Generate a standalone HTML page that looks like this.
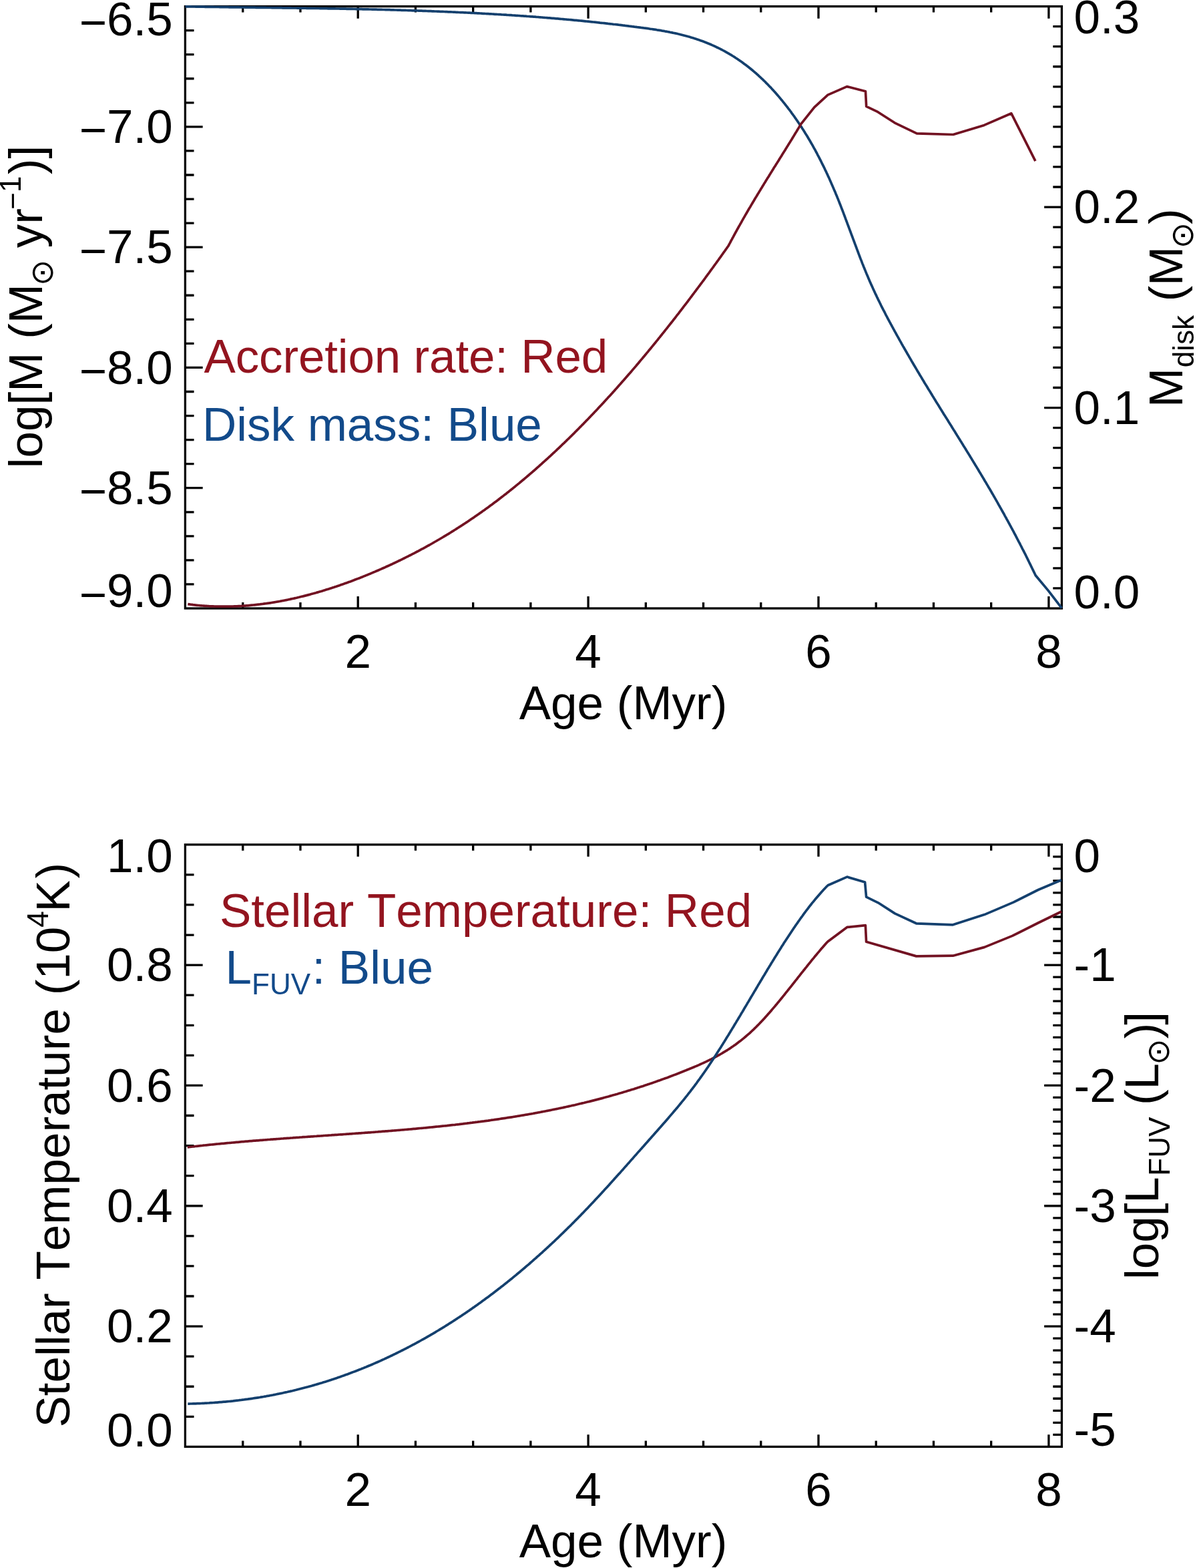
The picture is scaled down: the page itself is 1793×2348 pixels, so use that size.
<!DOCTYPE html>
<html><head><meta charset="utf-8"><title>Plot</title>
<style>html,body{margin:0;padding:0;background:#fff;} svg{display:block;} text{font-family:"Liberation Sans",Arial,Helvetica,sans-serif;font-kerning:none;}</style>
</head><body>
<svg xmlns="http://www.w3.org/2000/svg" width="1793" height="2348" viewBox="0 0 1793 2348">
<rect width="1793" height="2348" fill="#fff"/>
<rect x="277.4" y="9.6" width="1313.00" height="901.40" fill="none" stroke="#000" stroke-width="3.3"/>
<rect x="277.4" y="1264.8" width="1313.00" height="901.60" fill="none" stroke="#000" stroke-width="3.3"/>
<path d="M363.75,911.00v-9.01M363.75,9.60v9.01M449.97,911.00v-9.01M449.97,9.60v9.01M536.20,911.00v-18.03M536.20,9.60v18.03M622.42,911.00v-9.01M622.42,9.60v9.01M708.65,911.00v-9.01M708.65,9.60v9.01M794.88,911.00v-9.01M794.88,9.60v9.01M881.10,911.00v-18.03M881.10,9.60v18.03M967.33,911.00v-9.01M967.33,9.60v9.01M1053.55,911.00v-9.01M1053.55,9.60v9.01M1139.77,911.00v-9.01M1139.77,9.60v9.01M1226.00,911.00v-18.03M1226.00,9.60v18.03M1312.22,911.00v-9.01M1312.22,9.60v9.01M1398.45,911.00v-9.01M1398.45,9.60v9.01M1484.67,911.00v-9.01M1484.67,9.60v9.01M1570.90,911.00v-18.03M1570.90,9.60v18.03" stroke="#000" stroke-width="3.3" fill="none"/>
<path d="M363.75,2166.40v-9.02M363.75,1264.80v9.02M449.97,2166.40v-9.02M449.97,1264.80v9.02M536.20,2166.40v-18.03M536.20,1264.80v18.03M622.42,2166.40v-9.02M622.42,1264.80v9.02M708.65,2166.40v-9.02M708.65,1264.80v9.02M794.88,2166.40v-9.02M794.88,1264.80v9.02M881.10,2166.40v-18.03M881.10,1264.80v18.03M967.33,2166.40v-9.02M967.33,1264.80v9.02M1053.55,2166.40v-9.02M1053.55,1264.80v9.02M1139.77,2166.40v-9.02M1139.77,1264.80v9.02M1226.00,2166.40v-18.03M1226.00,1264.80v18.03M1312.22,2166.40v-9.02M1312.22,1264.80v9.02M1398.45,2166.40v-9.02M1398.45,1264.80v9.02M1484.67,2166.40v-9.02M1484.67,1264.80v9.02M1570.90,2166.40v-18.03M1570.90,1264.80v18.03" stroke="#000" stroke-width="3.3" fill="none"/>
<path d="M277.40,874.94h13.13M277.40,838.89h13.13M277.40,802.83h13.13M277.40,766.78h13.13M277.40,730.72h26.26M277.40,694.66h13.13M277.40,658.61h13.13M277.40,622.55h13.13M277.40,586.50h13.13M277.40,550.44h26.26M277.40,514.38h13.13M277.40,478.33h13.13M277.40,442.27h13.13M277.40,406.22h13.13M277.40,370.16h26.26M277.40,334.10h13.13M277.40,298.05h13.13M277.40,261.99h13.13M277.40,225.94h13.13M277.40,189.88h26.26M277.40,153.82h13.13M277.40,117.77h13.13M277.40,81.71h13.13M277.40,45.66h13.13" stroke="#000" stroke-width="3.3" fill="none"/>
<path d="M1590.40,880.95h-13.13M1590.40,850.91h-13.13M1590.40,820.86h-13.13M1590.40,790.81h-13.13M1590.40,760.77h-13.13M1590.40,730.72h-13.13M1590.40,700.67h-13.13M1590.40,670.63h-13.13M1590.40,640.58h-13.13M1590.40,610.53h-26.26M1590.40,580.49h-13.13M1590.40,550.44h-13.13M1590.40,520.39h-13.13M1590.40,490.35h-13.13M1590.40,460.30h-13.13M1590.40,430.25h-13.13M1590.40,400.21h-13.13M1590.40,370.16h-13.13M1590.40,340.11h-13.13M1590.40,310.07h-26.26M1590.40,280.02h-13.13M1590.40,249.97h-13.13M1590.40,219.93h-13.13M1590.40,189.88h-13.13M1590.40,159.83h-13.13M1590.40,129.79h-13.13M1590.40,99.74h-13.13M1590.40,69.69h-13.13M1590.40,39.65h-13.13" stroke="#000" stroke-width="3.3" fill="none"/>
<path d="M277.40,2121.32h13.13M277.40,2076.24h13.13M277.40,2031.16h13.13M277.40,1986.08h26.26M277.40,1941.00h13.13M277.40,1895.92h13.13M277.40,1850.84h13.13M277.40,1805.76h26.26M277.40,1760.68h13.13M277.40,1715.60h13.13M277.40,1670.52h13.13M277.40,1625.44h26.26M277.40,1580.36h13.13M277.40,1535.28h13.13M277.40,1490.20h13.13M277.40,1445.12h26.26M277.40,1400.04h13.13M277.40,1354.96h13.13M277.40,1309.88h13.13" stroke="#000" stroke-width="3.3" fill="none"/>
<path d="M1590.40,2148.37h-13.13M1590.40,2130.34h-13.13M1590.40,2112.30h-13.13M1590.40,2094.27h-13.13M1590.40,2076.24h-13.13M1590.40,2058.21h-13.13M1590.40,2040.18h-13.13M1590.40,2022.14h-13.13M1590.40,2004.11h-13.13M1590.40,1986.08h-26.26M1590.40,1968.05h-13.13M1590.40,1950.02h-13.13M1590.40,1931.98h-13.13M1590.40,1913.95h-13.13M1590.40,1895.92h-13.13M1590.40,1877.89h-13.13M1590.40,1859.86h-13.13M1590.40,1841.82h-13.13M1590.40,1823.79h-13.13M1590.40,1805.76h-26.26M1590.40,1787.73h-13.13M1590.40,1769.70h-13.13M1590.40,1751.66h-13.13M1590.40,1733.63h-13.13M1590.40,1715.60h-13.13M1590.40,1697.57h-13.13M1590.40,1679.54h-13.13M1590.40,1661.50h-13.13M1590.40,1643.47h-13.13M1590.40,1625.44h-26.26M1590.40,1607.41h-13.13M1590.40,1589.38h-13.13M1590.40,1571.34h-13.13M1590.40,1553.31h-13.13M1590.40,1535.28h-13.13M1590.40,1517.25h-13.13M1590.40,1499.22h-13.13M1590.40,1481.18h-13.13M1590.40,1463.15h-13.13M1590.40,1445.12h-26.26M1590.40,1427.09h-13.13M1590.40,1409.06h-13.13M1590.40,1391.02h-13.13M1590.40,1372.99h-13.13M1590.40,1354.96h-13.13M1590.40,1336.93h-13.13M1590.40,1318.90h-13.13M1590.40,1300.86h-13.13M1590.40,1282.83h-13.13" stroke="#000" stroke-width="3.3" fill="none"/>
<path d="M277.5,9.8 L279.5,9.9 L281.5,9.9 L283.5,9.9 L285.5,9.9 L287.5,10.0 L289.5,10.0 L291.5,10.0 L293.5,10.1 L295.5,10.1 L297.5,10.1 L299.5,10.2 L301.5,10.2 L303.5,10.2 L305.5,10.2 L307.5,10.3 L309.5,10.3 L311.5,10.3 L313.5,10.4 L315.5,10.4 L317.5,10.4 L319.5,10.4 L321.5,10.5 L323.5,10.5 L325.5,10.5 L327.5,10.5 L329.5,10.6 L331.5,10.6 L333.5,10.6 L335.5,10.7 L337.5,10.7 L339.5,10.7 L341.5,10.7 L343.5,10.8 L345.5,10.8 L347.5,10.8 L349.5,10.8 L351.5,10.9 L353.5,10.9 L355.5,10.9 L357.5,10.9 L359.5,11.0 L361.5,11.0 L363.5,11.0 L365.5,11.0 L367.5,11.1 L369.5,11.1 L371.5,11.1 L373.5,11.1 L375.5,11.2 L377.5,11.2 L379.5,11.2 L381.5,11.2 L383.5,11.3 L385.5,11.3 L387.5,11.3 L389.5,11.3 L391.5,11.4 L393.5,11.4 L395.5,11.4 L397.5,11.4 L399.5,11.5 L401.5,11.5 L403.5,11.5 L405.5,11.5 L407.5,11.6 L409.5,11.6 L411.5,11.6 L413.5,11.6 L415.5,11.7 L417.5,11.7 L419.5,11.7 L421.5,11.7 L423.5,11.8 L425.5,11.8 L427.5,11.8 L429.5,11.8 L431.5,11.9 L433.5,11.9 L435.5,11.9 L437.5,12.0 L439.5,12.0 L441.5,12.0 L443.5,12.0 L445.5,12.1 L447.5,12.1 L449.5,12.1 L451.5,12.1 L453.5,12.2 L455.5,12.2 L457.5,12.2 L459.5,12.3 L461.5,12.3 L463.5,12.3 L465.5,12.4 L467.5,12.4 L469.5,12.4 L471.5,12.4 L473.5,12.5 L475.5,12.5 L477.5,12.5 L479.5,12.6 L481.5,12.6 L483.5,12.6 L485.5,12.7 L487.5,12.7 L489.5,12.7 L491.5,12.8 L493.5,12.8 L495.5,12.8 L497.5,12.9 L499.5,12.9 L501.5,12.9 L503.5,13.0 L505.5,13.0 L507.5,13.0 L509.5,13.1 L511.5,13.1 L513.5,13.2 L515.5,13.2 L517.5,13.2 L519.5,13.3 L521.5,13.3 L523.5,13.4 L525.5,13.4 L527.5,13.4 L529.5,13.5 L531.5,13.5 L533.5,13.6 L535.5,13.6 L537.5,13.6 L539.5,13.7 L541.5,13.7 L543.5,13.8 L545.5,13.8 L547.5,13.9 L549.5,13.9 L551.5,13.9 L553.5,14.0 L555.5,14.0 L557.5,14.1 L559.5,14.1 L561.5,14.2 L563.5,14.2 L565.5,14.3 L567.5,14.3 L569.5,14.4 L571.5,14.4 L573.5,14.5 L575.5,14.5 L577.5,14.6 L579.5,14.6 L581.5,14.7 L583.5,14.7 L585.5,14.8 L587.5,14.9 L589.5,14.9 L591.5,15.0 L593.5,15.0 L595.5,15.1 L597.5,15.1 L599.5,15.2 L601.5,15.3 L603.5,15.3 L605.4,15.4 L607.4,15.4 L609.4,15.5 L611.4,15.6 L613.4,15.6 L615.4,15.7 L617.4,15.8 L619.4,15.8 L621.4,15.9 L623.4,15.9 L625.4,16.0 L627.4,16.1 L629.4,16.2 L631.4,16.2 L633.4,16.3 L635.4,16.4 L637.4,16.4 L639.4,16.5 L641.4,16.6 L643.4,16.7 L645.4,16.7 L647.4,16.8 L649.4,16.9 L651.4,17.0 L653.4,17.0 L655.4,17.1 L657.4,17.2 L659.4,17.3 L661.4,17.3 L663.4,17.4 L665.4,17.5 L667.4,17.6 L669.4,17.7 L671.4,17.8 L673.4,17.8 L675.4,17.9 L677.4,18.0 L679.4,18.1 L681.4,18.2 L683.4,18.3 L685.4,18.4 L687.4,18.5 L689.4,18.6 L691.4,18.6 L693.4,18.7 L695.4,18.8 L697.4,18.9 L699.4,19.0 L701.4,19.1 L703.4,19.2 L705.4,19.3 L707.4,19.4 L709.4,19.5 L711.4,19.6 L713.4,19.7 L715.4,19.8 L717.4,19.9 L719.4,20.0 L721.3,20.1 L723.3,20.3 L725.3,20.4 L727.3,20.5 L729.3,20.6 L731.3,20.7 L733.3,20.8 L735.3,20.9 L737.3,21.0 L739.3,21.1 L741.3,21.3 L743.3,21.4 L745.3,21.5 L747.3,21.6 L749.3,21.7 L751.3,21.9 L753.3,22.0 L755.3,22.1 L757.3,22.2 L759.3,22.4 L761.3,22.5 L763.3,22.6 L765.3,22.7 L767.3,22.9 L769.3,23.0 L771.3,23.1 L773.3,23.3 L775.3,23.4 L777.2,23.5 L779.2,23.7 L781.2,23.8 L783.2,23.9 L785.2,24.1 L787.2,24.2 L789.2,24.4 L791.2,24.5 L793.2,24.6 L795.2,24.8 L797.2,24.9 L799.2,25.1 L801.2,25.2 L803.2,25.4 L805.2,25.5 L807.2,25.7 L809.2,25.8 L811.2,26.0 L813.2,26.2 L815.1,26.3 L817.1,26.5 L819.1,26.6 L821.1,26.8 L823.1,26.9 L825.1,27.1 L827.1,27.3 L829.1,27.4 L831.1,27.6 L833.1,27.8 L835.1,27.9 L837.1,28.1 L839.1,28.3 L841.1,28.5 L843.1,28.6 L845.0,28.8 L847.0,29.0 L849.0,29.2 L851.0,29.3 L853.0,29.5 L855.0,29.7 L857.0,29.9 L859.0,30.1 L861.0,30.3 L863.0,30.4 L865.0,30.6 L867.0,30.8 L868.9,31.0 L870.9,31.2 L872.9,31.4 L874.9,31.6 L876.9,31.8 L878.9,32.0 L880.9,32.2 L882.9,32.4 L884.9,32.6 L886.9,32.8 L888.8,33.0 L890.8,33.2 L892.8,33.4 L894.8,33.6 L896.8,33.8 L898.8,34.1 L900.8,34.3 L902.8,34.5 L904.8,34.7 L906.7,34.9 L908.7,35.1 L910.7,35.4 L912.7,35.6 L914.7,35.8 L916.7,36.0 L918.7,36.3 L920.7,36.5 L922.6,36.7 L924.6,36.9 L926.6,37.2 L928.6,37.4 L930.6,37.6 L932.6,37.9 L934.6,38.1 L936.5,38.4 L938.5,38.6 L940.5,38.8 L942.5,39.1 L944.5,39.3 L946.5,39.6 L948.5,39.8 L950.4,40.1 L952.4,40.3 L954.4,40.6 L956.4,40.8 L958.4,41.1 L960.4,41.4 L962.3,41.6 L964.3,41.9 L966.3,42.1 L968.3,42.4 L970.3,42.7 L972.3,43.0 L974.2,43.3 L976.2,43.5 L978.2,43.8 L980.2,44.1 L982.1,44.4 L984.1,44.8 L986.1,45.1 L988.1,45.4 L990.0,45.7 L992.0,46.1 L994.0,46.4 L996.0,46.8 L997.9,47.1 L999.9,47.5 L1001.9,47.9 L1003.8,48.3 L1005.8,48.6 L1007.7,49.1 L1009.7,49.5 L1011.7,49.9 L1013.6,50.3 L1015.6,50.8 L1017.5,51.2 L1019.4,51.7 L1021.4,52.2 L1023.3,52.7 L1025.3,53.2 L1027.2,53.7 L1029.1,54.2 L1031.1,54.8 L1033.0,55.3 L1034.9,55.9 L1036.8,56.5 L1038.7,57.1 L1040.6,57.7 L1042.5,58.3 L1044.4,58.9 L1046.3,59.6 L1048.2,60.2 L1050.1,60.9 L1052.0,61.6 L1053.9,62.3 L1055.7,63.0 L1057.6,63.7 L1059.5,64.5 L1061.3,65.2 L1063.2,66.0 L1065.0,66.8 L1066.8,67.6 L1068.7,68.4 L1070.5,69.2 L1072.3,70.1 L1074.1,71.0 L1075.9,71.8 L1077.7,72.7 L1079.5,73.6 L1081.3,74.5 L1083.1,75.5 L1084.8,76.4 L1086.6,77.4 L1088.3,78.4 L1090.1,79.4 L1091.8,80.4 L1093.5,81.4 L1095.3,82.4 L1097.0,83.5 L1098.7,84.5 L1100.4,85.6 L1102.0,86.7 L1103.7,87.8 L1105.4,88.9 L1107.0,90.0 L1108.7,91.2 L1110.3,92.3 L1112.0,93.5 L1113.6,94.7 L1115.2,95.9 L1116.8,97.1 L1118.4,98.3 L1120.0,99.5 L1121.6,100.8 L1123.1,102.0 L1124.7,103.3 L1126.2,104.5 L1127.8,105.8 L1129.3,107.1 L1130.8,108.4 L1132.4,109.7 L1133.9,111.1 L1135.4,112.4 L1136.8,113.8 L1138.3,115.1 L1139.8,116.5 L1141.2,117.9 L1142.7,119.2 L1144.1,120.6 L1145.6,122.0 L1147.0,123.4 L1148.4,124.9 L1149.8,126.3 L1151.2,127.7 L1152.6,129.2 L1154.0,130.6 L1155.4,132.1 L1156.7,133.6 L1158.1,135.0 L1159.4,136.5 L1160.8,138.0 L1162.1,139.5 L1163.4,141.0 L1164.7,142.5 L1166.1,144.1 L1167.4,145.6 L1168.6,147.1 L1169.9,148.7 L1171.2,150.2 L1172.5,151.8 L1173.7,153.3 L1175.0,154.9 L1176.2,156.5 L1177.5,158.1 L1178.7,159.6 L1179.9,161.2 L1181.1,162.8 L1182.4,164.4 L1183.6,166.0 L1184.8,167.6 L1185.9,169.3 L1187.1,170.9 L1188.3,172.5 L1189.5,174.1 L1190.6,175.8 L1191.8,177.4 L1192.9,179.1 L1194.1,180.7 L1195.2,182.4 L1196.3,184.0 L1197.4,185.7 L1198.6,187.4 L1199.7,189.0 L1200.8,190.7 L1201.8,192.4 L1202.9,194.1 L1204.0,195.8 L1205.1,197.5 L1206.1,199.2 L1207.2,200.9 L1208.2,202.6 L1209.3,204.3 L1210.3,206.0 L1211.3,207.8 L1212.4,209.5 L1213.4,211.2 L1214.4,213.0 L1215.4,214.7 L1216.4,216.4 L1217.4,218.2 L1218.3,219.9 L1219.3,221.7 L1220.3,223.4 L1221.3,225.2 L1222.2,227.0 L1223.2,228.7 L1224.1,230.5 L1225.0,232.3 L1226.0,234.1 L1226.9,235.8 L1227.8,237.6 L1228.7,239.4 L1229.6,241.2 L1230.5,243.0 L1231.4,244.8 L1232.3,246.6 L1233.2,248.4 L1234.1,250.2 L1235.0,252.0 L1235.8,253.8 L1236.7,255.6 L1237.6,257.4 L1238.4,259.2 L1239.3,261.1 L1240.1,262.9 L1240.9,264.7 L1241.8,266.5 L1242.6,268.4 L1243.4,270.2 L1244.2,272.0 L1245.0,273.9 L1245.8,275.7 L1246.6,277.5 L1247.4,279.4 L1248.2,281.2 L1249.0,283.1 L1249.8,284.9 L1250.6,286.8 L1251.4,288.6 L1252.1,290.5 L1252.9,292.3 L1253.7,294.2 L1254.4,296.0 L1255.2,297.9 L1255.9,299.7 L1256.7,301.6 L1257.4,303.5 L1258.1,305.3 L1258.9,307.2 L1259.6,309.1 L1260.3,310.9 L1261.0,312.8 L1261.8,314.7 L1262.5,316.6 L1263.2,318.4 L1263.9,320.3 L1264.6,322.2 L1265.3,324.0 L1266.0,325.9 L1266.7,327.8 L1267.4,329.7 L1268.1,331.5 L1268.8,333.4 L1269.5,335.3 L1270.2,337.2 L1270.9,339.0 L1271.6,340.9 L1272.3,342.8 L1273.0,344.7 L1273.7,346.5 L1274.4,348.4 L1275.1,350.3 L1275.8,352.2 L1276.5,354.0 L1277.2,355.9 L1277.9,357.8 L1278.6,359.7 L1279.3,361.5 L1280.0,363.4 L1280.7,365.3 L1281.4,367.2 L1282.1,369.0 L1282.8,370.9 L1283.5,372.8 L1284.2,374.6 L1284.9,376.5 L1285.6,378.4 L1286.3,380.3 L1287.0,382.1 L1287.7,384.0 L1288.4,385.8 L1289.1,387.7 L1289.9,389.6 L1290.6,391.4 L1291.3,393.3 L1292.0,395.1 L1292.8,397.0 L1293.5,398.9 L1294.3,400.7 L1295.0,402.6 L1295.8,404.4 L1296.5,406.2 L1297.3,408.1 L1298.0,409.9 L1298.8,411.8 L1299.6,413.6 L1300.4,415.4 L1301.1,417.3 L1301.9,419.1 L1302.7,420.9 L1303.5,422.8 L1304.3,424.6 L1305.1,426.4 L1306.0,428.2 L1306.8,430.0 L1307.6,431.9 L1308.4,433.7 L1309.3,435.5 L1310.1,437.3 L1310.9,439.1 L1311.8,440.9 L1312.7,442.7 L1313.5,444.5 L1314.4,446.3 L1315.2,448.1 L1316.1,449.9 L1317.0,451.7 L1317.9,453.5 L1318.8,455.3 L1319.6,457.1 L1320.5,458.8 L1321.4,460.6 L1322.3,462.4 L1323.2,464.2 L1324.2,465.9 L1325.1,467.7 L1326.0,469.5 L1326.9,471.3 L1327.8,473.0 L1328.8,474.8 L1329.7,476.6 L1330.6,478.3 L1331.6,480.1 L1332.5,481.9 L1333.5,483.6 L1334.4,485.4 L1335.4,487.1 L1336.3,488.9 L1337.3,490.6 L1338.2,492.4 L1339.2,494.1 L1340.1,495.9 L1341.1,497.6 L1342.1,499.4 L1343.0,501.1 L1344.0,502.9 L1345.0,504.6 L1346.0,506.4 L1346.9,508.1 L1347.9,509.9 L1348.9,511.6 L1349.9,513.4 L1350.8,515.1 L1351.8,516.8 L1352.8,518.6 L1353.8,520.3 L1354.8,522.0 L1355.8,523.8 L1356.8,525.5 L1357.8,527.2 L1358.8,529.0 L1359.8,530.7 L1360.8,532.4 L1361.8,534.2 L1362.8,535.9 L1363.8,537.6 L1364.8,539.3 L1365.8,541.1 L1366.8,542.8 L1367.8,544.5 L1368.8,546.2 L1369.9,548.0 L1370.9,549.7 L1371.9,551.4 L1372.9,553.1 L1373.9,554.8 L1374.9,556.6 L1376.0,558.3 L1377.0,560.0 L1378.0,561.7 L1379.1,563.4 L1380.1,565.1 L1381.1,566.8 L1382.1,568.6 L1383.2,570.3 L1384.2,572.0 L1385.2,573.7 L1386.3,575.4 L1387.3,577.1 L1388.4,578.8 L1389.4,580.5 L1390.4,582.2 L1391.5,583.9 L1392.5,585.6 L1393.6,587.3 L1394.6,589.0 L1395.7,590.8 L1396.7,592.5 L1397.8,594.2 L1398.8,595.9 L1399.8,597.6 L1400.9,599.3 L1401.9,601.0 L1403.0,602.7 L1404.1,604.4 L1405.1,606.1 L1406.2,607.8 L1407.2,609.5 L1408.3,611.2 L1409.3,612.9 L1410.4,614.6 L1411.4,616.3 L1412.5,618.0 L1413.5,619.7 L1414.6,621.4 L1415.7,623.1 L1416.7,624.8 L1417.8,626.4 L1418.8,628.1 L1419.9,629.8 L1420.9,631.5 L1422.0,633.2 L1423.1,634.9 L1424.1,636.6 L1425.2,638.3 L1426.2,640.0 L1427.3,641.7 L1428.3,643.4 L1429.4,645.1 L1430.5,646.8 L1431.5,648.5 L1432.6,650.2 L1433.6,651.9 L1434.7,653.6 L1435.7,655.3 L1436.8,657.0 L1437.9,658.7 L1438.9,660.4 L1440.0,662.1 L1441.0,663.8 L1442.1,665.5 L1443.1,667.2 L1444.2,668.9 L1445.2,670.6 L1446.3,672.3 L1447.3,674.0 L1448.4,675.7 L1449.4,677.4 L1450.5,679.1 L1451.5,680.8 L1452.6,682.5 L1453.6,684.2 L1454.7,685.9 L1455.7,687.7 L1456.8,689.4 L1457.8,691.1 L1458.8,692.8 L1459.9,694.5 L1460.9,696.2 L1462.0,697.9 L1463.0,699.6 L1464.0,701.3 L1465.1,703.0 L1466.1,704.8 L1467.1,706.5 L1468.2,708.2 L1469.2,709.9 L1470.2,711.6 L1471.2,713.3 L1472.3,715.1 L1473.3,716.8 L1474.3,718.5 L1475.3,720.2 L1476.4,721.9 L1477.4,723.7 L1478.4,725.4 L1479.4,727.1 L1480.4,728.8 L1481.4,730.6 L1482.5,732.3 L1483.5,734.0 L1484.5,735.7 L1485.5,737.5 L1486.5,739.2 L1487.5,740.9 L1488.5,742.7 L1489.5,744.4 L1490.5,746.1 L1491.5,747.9 L1492.5,749.6 L1493.5,751.4 L1494.5,753.1 L1495.4,754.8 L1496.4,756.6 L1497.4,758.3 L1498.4,760.1 L1499.4,761.8 L1500.4,763.6 L1501.3,765.3 L1502.3,767.0 L1503.3,768.8 L1504.3,770.5 L1505.2,772.3 L1506.2,774.1 L1507.2,775.8 L1508.1,777.6 L1509.1,779.3 L1510.1,781.1 L1511.0,782.8 L1512.0,784.6 L1512.9,786.4 L1513.9,788.1 L1514.8,789.9 L1515.8,791.6 L1516.7,793.4 L1517.7,795.2 L1518.6,796.9 L1519.5,798.7 L1520.5,800.5 L1521.4,802.2 L1522.3,804.0 L1523.3,805.8 L1524.2,807.6 L1525.1,809.3 L1526.0,811.1 L1527.0,812.9 L1527.9,814.7 L1528.8,816.5 L1529.7,818.2 L1530.6,820.0 L1531.5,821.8 L1532.5,823.6 L1533.4,825.4 L1534.3,827.2 L1535.2,828.9 L1536.1,830.7 L1537.0,832.5 L1537.9,834.3 L1538.8,836.1 L1539.6,837.9 L1540.5,839.7 L1541.4,841.5 L1542.3,843.3 L1543.2,845.1 L1544.1,846.9 L1544.9,848.7 L1545.8,850.5 L1546.7,852.3 L1547.6,854.1 L1548.4,855.9 L1549.3,857.7 L1550.2,859.5 L1551.0,861.3 L1551.1,861.5 L1570.2,884.4 L1590.4,910.6" fill="none" stroke="#14406e" stroke-width="3.7" stroke-linejoin="round" stroke-linecap="butt"/>
<path d="M281.3,904.6 L283.3,904.9 L285.3,905.2 L287.3,905.4 L289.2,905.7 L291.2,905.9 L293.2,906.1 L295.2,906.3 L297.2,906.5 L299.2,906.7 L301.2,906.8 L303.2,907.0 L305.2,907.1 L307.2,907.3 L309.2,907.4 L311.1,907.5 L313.1,907.7 L315.1,907.8 L317.1,907.8 L319.1,907.9 L321.1,908.0 L323.1,908.1 L325.1,908.1 L327.1,908.2 L329.1,908.2 L331.1,908.2 L333.1,908.2 L335.1,908.2 L337.1,908.2 L339.1,908.2 L341.1,908.2 L343.1,908.2 L345.1,908.1 L347.1,908.1 L349.1,908.0 L351.1,907.9 L353.1,907.9 L355.1,907.8 L357.1,907.7 L359.1,907.6 L361.1,907.5 L363.1,907.3 L365.1,907.2 L367.1,907.1 L369.1,906.9 L371.1,906.8 L373.1,906.6 L375.1,906.4 L377.1,906.2 L379.1,906.0 L381.1,905.8 L383.0,905.6 L385.0,905.4 L387.0,905.2 L389.0,905.0 L391.0,904.7 L393.0,904.5 L395.0,904.2 L396.9,903.9 L398.9,903.7 L400.9,903.4 L402.9,903.1 L404.9,902.8 L406.8,902.5 L408.8,902.2 L410.8,901.8 L412.8,901.5 L414.7,901.2 L416.7,900.8 L418.7,900.5 L420.6,900.1 L422.6,899.7 L424.6,899.4 L426.5,899.0 L428.5,898.6 L430.5,898.2 L432.4,897.8 L434.4,897.4 L436.3,896.9 L438.3,896.5 L440.2,896.1 L442.2,895.6 L444.1,895.2 L446.1,894.7 L448.0,894.3 L450.0,893.8 L451.9,893.3 L453.9,892.9 L455.8,892.4 L457.8,891.9 L459.7,891.4 L461.6,890.9 L463.6,890.4 L465.5,889.8 L467.4,889.3 L469.3,888.8 L471.3,888.2 L473.2,887.7 L475.1,887.1 L477.0,886.6 L479.0,886.0 L480.9,885.5 L482.8,884.9 L484.7,884.3 L486.6,883.7 L488.5,883.1 L490.5,882.5 L492.4,881.9 L494.3,881.3 L496.2,880.7 L498.1,880.1 L500.0,879.5 L501.9,878.8 L503.8,878.2 L505.7,877.5 L507.6,876.9 L509.4,876.3 L511.3,875.6 L513.2,874.9 L515.1,874.3 L517.0,873.6 L518.9,872.9 L520.8,872.2 L522.6,871.5 L524.5,870.9 L526.4,870.2 L528.3,869.5 L530.1,868.8 L532.0,868.0 L533.9,867.3 L535.7,866.6 L537.6,865.9 L539.5,865.2 L541.3,864.4 L543.2,863.7 L545.1,862.9 L546.9,862.2 L548.8,861.4 L550.6,860.7 L552.5,859.9 L554.3,859.2 L556.2,858.4 L558.0,857.6 L559.9,856.8 L561.7,856.1 L563.5,855.3 L565.4,854.5 L567.2,853.7 L569.1,852.9 L570.9,852.1 L572.7,851.3 L574.5,850.5 L576.4,849.7 L578.2,848.8 L580.0,848.0 L581.8,847.2 L583.7,846.4 L585.5,845.5 L587.3,844.7 L589.1,843.8 L590.9,843.0 L592.7,842.1 L594.5,841.3 L596.3,840.4 L598.1,839.5 L599.9,838.7 L601.7,837.8 L603.5,836.9 L605.3,836.0 L607.1,835.1 L608.9,834.2 L610.7,833.3 L612.5,832.4 L614.3,831.5 L616.1,830.6 L617.8,829.7 L619.6,828.8 L621.4,827.9 L623.2,826.9 L624.9,826.0 L626.7,825.1 L628.5,824.1 L630.2,823.2 L632.0,822.2 L633.8,821.3 L635.5,820.3 L637.3,819.4 L639.0,818.4 L640.8,817.4 L642.5,816.5 L644.3,815.5 L646.0,814.5 L647.8,813.5 L649.5,812.5 L651.2,811.5 L653.0,810.5 L654.7,809.5 L656.4,808.5 L658.2,807.5 L659.9,806.5 L661.6,805.5 L663.3,804.5 L665.1,803.4 L666.8,802.4 L668.5,801.4 L670.2,800.3 L671.9,799.3 L673.6,798.3 L675.3,797.2 L677.0,796.1 L678.7,795.1 L680.4,794.0 L682.1,793.0 L683.8,791.9 L685.5,790.8 L687.2,789.7 L688.9,788.7 L690.5,787.6 L692.2,786.5 L693.9,785.4 L695.6,784.3 L697.2,783.2 L698.9,782.1 L700.6,781.0 L702.2,779.9 L703.9,778.8 L705.6,777.6 L707.2,776.5 L708.9,775.4 L710.5,774.3 L712.2,773.1 L713.8,772.0 L715.5,770.8 L717.1,769.7 L718.7,768.5 L720.4,767.4 L722.0,766.2 L723.6,765.1 L725.3,763.9 L726.9,762.7 L728.5,761.6 L730.1,760.4 L731.8,759.2 L733.4,758.0 L735.0,756.8 L736.6,755.7 L738.2,754.5 L739.8,753.3 L741.4,752.1 L743.0,750.9 L744.6,749.7 L746.2,748.5 L747.8,747.2 L749.4,746.0 L751.0,744.8 L752.6,743.6 L754.1,742.4 L755.7,741.1 L757.3,739.9 L758.9,738.7 L760.4,737.4 L762.0,736.2 L763.6,734.9 L765.1,733.7 L766.7,732.4 L768.3,731.2 L769.8,729.9 L771.4,728.7 L772.9,727.4 L774.5,726.1 L776.0,724.9 L777.6,723.6 L779.1,722.3 L780.7,721.0 L782.2,719.7 L783.7,718.5 L785.3,717.2 L786.8,715.9 L788.3,714.6 L789.8,713.3 L791.4,712.0 L792.9,710.7 L794.4,709.4 L795.9,708.1 L797.4,706.8 L798.9,705.5 L800.5,704.2 L802.0,702.8 L803.5,701.5 L805.0,700.2 L806.5,698.9 L808.0,697.5 L809.5,696.2 L811.0,694.9 L812.4,693.5 L813.9,692.2 L815.4,690.9 L816.9,689.5 L818.4,688.2 L819.9,686.8 L821.3,685.5 L822.8,684.1 L824.3,682.8 L825.8,681.4 L827.2,680.1 L828.7,678.7 L830.2,677.3 L831.6,676.0 L833.1,674.6 L834.5,673.2 L836.0,671.8 L837.5,670.5 L838.9,669.1 L840.4,667.7 L841.8,666.3 L843.2,664.9 L844.7,663.6 L846.1,662.2 L847.6,660.8 L849.0,659.4 L850.4,658.0 L851.9,656.6 L853.3,655.2 L854.7,653.8 L856.2,652.4 L857.6,651.0 L859.0,649.6 L860.4,648.2 L861.8,646.7 L863.3,645.3 L864.7,643.9 L866.1,642.5 L867.5,641.1 L868.9,639.6 L870.3,638.2 L871.7,636.8 L873.1,635.4 L874.5,633.9 L875.9,632.5 L877.3,631.1 L878.7,629.6 L880.1,628.2 L881.5,626.8 L882.9,625.3 L884.3,623.9 L885.6,622.4 L887.0,621.0 L888.4,619.5 L889.8,618.1 L891.2,616.6 L892.5,615.2 L893.9,613.7 L895.3,612.3 L896.6,610.8 L898.0,609.3 L899.4,607.9 L900.7,606.4 L902.1,604.9 L903.5,603.5 L904.8,602.0 L906.2,600.5 L907.5,599.1 L908.9,597.6 L910.2,596.1 L911.6,594.6 L912.9,593.2 L914.3,591.7 L915.6,590.2 L917.0,588.7 L918.3,587.2 L919.7,585.7 L921.0,584.2 L922.3,582.8 L923.7,581.3 L925.0,579.8 L926.3,578.3 L927.6,576.8 L929.0,575.3 L930.3,573.8 L931.6,572.3 L932.9,570.8 L934.3,569.3 L935.6,567.8 L936.9,566.3 L938.2,564.7 L939.5,563.2 L940.8,561.7 L942.1,560.2 L943.5,558.7 L944.8,557.2 L946.1,555.7 L947.4,554.1 L948.7,552.6 L950.0,551.1 L951.3,549.6 L952.6,548.1 L953.9,546.5 L955.2,545.0 L956.5,543.5 L957.7,542.0 L959.0,540.4 L960.3,538.9 L961.6,537.4 L962.9,535.8 L964.2,534.3 L965.5,532.8 L966.7,531.2 L968.0,529.7 L969.3,528.1 L970.6,526.6 L971.8,525.0 L973.1,523.5 L974.4,522.0 L975.7,520.4 L976.9,518.9 L978.2,517.3 L979.5,515.8 L980.7,514.2 L982.0,512.7 L983.2,511.1 L984.5,509.6 L985.8,508.0 L987.0,506.4 L988.3,504.9 L989.5,503.3 L990.8,501.8 L992.0,500.2 L993.3,498.6 L994.5,497.1 L995.8,495.5 L997.0,493.9 L998.3,492.4 L999.5,490.8 L1000.8,489.2 L1002.0,487.7 L1003.2,486.1 L1004.5,484.5 L1005.7,483.0 L1007.0,481.4 L1008.2,479.8 L1009.4,478.2 L1010.7,476.7 L1011.9,475.1 L1013.1,473.5 L1014.3,471.9 L1015.6,470.3 L1016.8,468.8 L1018.0,467.2 L1019.2,465.6 L1020.5,464.0 L1021.7,462.4 L1022.9,460.8 L1024.1,459.2 L1025.3,457.7 L1026.5,456.1 L1027.8,454.5 L1029.0,452.9 L1030.2,451.3 L1031.4,449.7 L1032.6,448.1 L1033.8,446.5 L1035.0,444.9 L1036.2,443.3 L1037.4,441.7 L1038.6,440.1 L1039.8,438.5 L1041.0,436.9 L1042.2,435.3 L1043.4,433.7 L1044.6,432.1 L1045.8,430.5 L1047.0,428.9 L1048.2,427.3 L1049.4,425.7 L1050.6,424.1 L1051.8,422.5 L1053.0,420.9 L1054.2,419.3 L1055.4,417.7 L1056.6,416.0 L1057.7,414.4 L1058.9,412.8 L1060.1,411.2 L1061.3,409.6 L1062.5,408.0 L1063.6,406.4 L1064.8,404.7 L1066.0,403.1 L1067.2,401.5 L1068.4,399.9 L1069.5,398.3 L1070.7,396.6 L1071.9,395.0 L1073.1,393.4 L1074.2,391.8 L1075.4,390.2 L1076.6,388.5 L1077.7,386.9 L1078.9,385.3 L1080.1,383.7 L1081.2,382.0 L1082.4,380.4 L1083.5,378.8 L1084.7,377.1 L1085.9,375.5 L1087.0,373.9 L1088.2,372.2 L1089.3,370.6 L1090.5,369.0 L1091.5,367.4 L1092.4,365.6 L1093.4,363.9 L1094.3,362.1 L1095.2,360.3 L1096.2,358.6 L1097.1,356.8 L1098.1,355.1 L1099.0,353.3 L1100.0,351.5 L1100.9,349.8 L1101.9,348.0 L1102.9,346.3 L1103.8,344.5 L1104.8,342.8 L1105.8,341.0 L1106.7,339.3 L1107.7,337.6 L1108.7,335.8 L1109.7,334.1 L1110.7,332.3 L1111.6,330.6 L1112.6,328.9 L1113.6,327.1 L1114.6,325.4 L1115.6,323.7 L1116.6,321.9 L1117.6,320.2 L1118.6,318.5 L1119.6,316.8 L1120.6,315.0 L1121.6,313.3 L1122.6,311.6 L1123.7,309.9 L1124.7,308.1 L1125.7,306.4 L1126.7,304.7 L1127.7,303.0 L1128.8,301.3 L1129.8,299.5 L1130.8,297.8 L1131.8,296.1 L1132.9,294.4 L1133.9,292.7 L1134.9,291.0 L1136.0,289.3 L1137.0,287.6 L1138.0,285.9 L1139.1,284.2 L1140.1,282.4 L1141.2,280.7 L1142.2,279.0 L1143.3,277.3 L1144.3,275.6 L1145.3,273.9 L1146.4,272.2 L1147.4,270.5 L1148.5,268.8 L1149.5,267.1 L1150.6,265.4 L1151.7,263.7 L1152.7,262.0 L1153.8,260.3 L1154.8,258.6 L1155.9,256.9 L1156.9,255.2 L1158.0,253.5 L1159.0,251.8 L1160.1,250.1 L1161.2,248.4 L1162.2,246.8 L1163.3,245.1 L1164.3,243.4 L1165.4,241.7 L1166.5,240.0 L1167.5,238.3 L1168.6,236.6 L1169.6,234.9 L1170.7,233.2 L1171.7,231.5 L1172.8,229.8 L1173.9,228.1 L1174.9,226.4 L1176.0,224.7 L1177.0,223.0 L1178.1,221.3 L1179.1,219.6 L1180.2,217.9 L1181.2,216.2 L1182.3,214.5 L1183.4,212.8 L1184.4,211.1 L1185.5,209.4 L1186.5,207.7 L1187.5,206.0 L1188.6,204.3 L1189.6,202.6 L1190.7,200.8 L1191.7,199.1 L1192.8,197.4 L1193.8,195.7 L1194.8,194.0 L1195.9,192.3 L1196.9,190.6 L1197.9,188.9 L1199.0,187.1 L1200.0,185.4 L1200.1,185.3 L1219.8,160.6 L1240.0,142.1 L1268.6,129.6 L1296.5,136.8 L1297.7,159.4 L1315.0,167.7 L1340.0,183.8 L1373.3,199.8 L1427.8,201.5 L1474.3,187.4 L1514.9,169.8 L1550.9,241.1" fill="none" stroke="#721222" stroke-width="3.7" stroke-linejoin="round" stroke-linecap="butt"/>
<path d="M280.8,1717.8 L282.8,1717.7 L284.8,1717.4 L286.8,1717.2 L288.7,1717.0 L290.7,1716.8 L292.7,1716.5 L294.7,1716.3 L296.7,1716.1 L298.7,1715.9 L300.7,1715.7 L302.7,1715.5 L304.7,1715.2 L306.6,1715.0 L308.6,1714.8 L310.6,1714.6 L312.6,1714.4 L314.6,1714.2 L316.6,1714.0 L318.6,1713.8 L320.6,1713.6 L322.6,1713.4 L324.5,1713.2 L326.5,1713.0 L328.5,1712.8 L330.5,1712.6 L332.5,1712.4 L334.5,1712.3 L336.5,1712.1 L338.5,1711.9 L340.5,1711.7 L342.5,1711.5 L344.5,1711.3 L346.5,1711.2 L348.4,1711.0 L350.4,1710.8 L352.4,1710.6 L354.4,1710.4 L356.4,1710.3 L358.4,1710.1 L360.4,1709.9 L362.4,1709.7 L364.4,1709.6 L366.4,1709.4 L368.4,1709.2 L370.4,1709.1 L372.4,1708.9 L374.3,1708.7 L376.3,1708.6 L378.3,1708.4 L380.3,1708.2 L382.3,1708.1 L384.3,1707.9 L386.3,1707.8 L388.3,1707.6 L390.3,1707.4 L392.3,1707.3 L394.3,1707.1 L396.3,1707.0 L398.3,1706.8 L400.3,1706.7 L402.3,1706.5 L404.3,1706.4 L406.2,1706.2 L408.2,1706.1 L410.2,1705.9 L412.2,1705.8 L414.2,1705.6 L416.2,1705.5 L418.2,1705.3 L420.2,1705.2 L422.2,1705.0 L424.2,1704.9 L426.2,1704.7 L428.2,1704.6 L430.2,1704.4 L432.2,1704.3 L434.2,1704.2 L436.2,1704.0 L438.2,1703.9 L440.2,1703.7 L442.1,1703.6 L444.1,1703.4 L446.1,1703.3 L448.1,1703.2 L450.1,1703.0 L452.1,1702.9 L454.1,1702.7 L456.1,1702.6 L458.1,1702.5 L460.1,1702.3 L462.1,1702.2 L464.1,1702.1 L466.1,1701.9 L468.1,1701.8 L470.1,1701.6 L472.1,1701.5 L474.1,1701.4 L476.1,1701.2 L478.1,1701.1 L480.1,1701.0 L482.1,1700.8 L484.0,1700.7 L486.0,1700.5 L488.0,1700.4 L490.0,1700.3 L492.0,1700.1 L494.0,1700.0 L496.0,1699.9 L498.0,1699.7 L500.0,1699.6 L502.0,1699.4 L504.0,1699.3 L506.0,1699.2 L508.0,1699.0 L510.0,1698.9 L512.0,1698.8 L514.0,1698.6 L516.0,1698.5 L518.0,1698.3 L520.0,1698.2 L522.0,1698.1 L524.0,1697.9 L525.9,1697.8 L527.9,1697.6 L529.9,1697.5 L531.9,1697.3 L533.9,1697.2 L535.9,1697.1 L537.9,1696.9 L539.9,1696.8 L541.9,1696.6 L543.9,1696.5 L545.9,1696.3 L547.9,1696.2 L549.9,1696.1 L551.9,1695.9 L553.9,1695.8 L555.9,1695.6 L557.9,1695.5 L559.9,1695.3 L561.9,1695.2 L563.8,1695.0 L565.8,1694.9 L567.8,1694.7 L569.8,1694.6 L571.8,1694.4 L573.8,1694.2 L575.8,1694.1 L577.8,1693.9 L579.8,1693.8 L581.8,1693.6 L583.8,1693.5 L585.8,1693.3 L587.8,1693.1 L589.8,1693.0 L591.8,1692.8 L593.8,1692.7 L595.7,1692.5 L597.7,1692.3 L599.7,1692.2 L601.7,1692.0 L603.7,1691.8 L605.7,1691.7 L607.7,1691.5 L609.7,1691.3 L611.7,1691.1 L613.7,1691.0 L615.7,1690.8 L617.7,1690.6 L619.7,1690.4 L621.7,1690.3 L623.6,1690.1 L625.6,1689.9 L627.6,1689.7 L629.6,1689.5 L631.6,1689.3 L633.6,1689.2 L635.6,1689.0 L637.6,1688.8 L639.6,1688.6 L641.6,1688.4 L643.6,1688.2 L645.5,1688.0 L647.5,1687.8 L649.5,1687.6 L651.5,1687.4 L653.5,1687.2 L655.5,1687.0 L657.5,1686.8 L659.5,1686.6 L661.5,1686.4 L663.5,1686.2 L665.4,1686.0 L667.4,1685.8 L669.4,1685.6 L671.4,1685.3 L673.4,1685.1 L675.4,1684.9 L677.4,1684.7 L679.4,1684.5 L681.4,1684.3 L683.3,1684.0 L685.3,1683.8 L687.3,1683.6 L689.3,1683.3 L691.3,1683.1 L693.3,1682.9 L695.3,1682.6 L697.2,1682.4 L699.2,1682.2 L701.2,1681.9 L703.2,1681.7 L705.2,1681.4 L707.2,1681.2 L709.2,1680.9 L711.1,1680.7 L713.1,1680.4 L715.1,1680.2 L717.1,1679.9 L719.1,1679.7 L721.1,1679.4 L723.0,1679.1 L725.0,1678.9 L727.0,1678.6 L729.0,1678.3 L731.0,1678.1 L733.0,1677.8 L734.9,1677.5 L736.9,1677.2 L738.9,1677.0 L740.9,1676.7 L742.9,1676.4 L744.8,1676.1 L746.8,1675.8 L748.8,1675.5 L750.8,1675.2 L752.7,1674.9 L754.7,1674.6 L756.7,1674.3 L758.7,1674.0 L760.7,1673.7 L762.6,1673.4 L764.6,1673.1 L766.6,1672.8 L768.6,1672.5 L770.5,1672.2 L772.5,1671.8 L774.5,1671.5 L776.5,1671.2 L778.4,1670.9 L780.4,1670.5 L782.4,1670.2 L784.3,1669.9 L786.3,1669.5 L788.3,1669.2 L790.3,1668.9 L792.2,1668.5 L794.2,1668.2 L796.2,1667.8 L798.1,1667.5 L800.1,1667.1 L802.1,1666.7 L804.0,1666.4 L806.0,1666.0 L808.0,1665.7 L809.9,1665.3 L811.9,1664.9 L813.9,1664.5 L815.8,1664.2 L817.8,1663.8 L819.8,1663.4 L821.7,1663.0 L823.7,1662.6 L825.6,1662.2 L827.6,1661.8 L829.6,1661.4 L831.5,1661.0 L833.5,1660.6 L835.4,1660.2 L837.4,1659.8 L839.4,1659.4 L841.3,1659.0 L843.3,1658.6 L845.2,1658.1 L847.2,1657.7 L849.1,1657.3 L851.1,1656.9 L853.0,1656.4 L855.0,1656.0 L856.9,1655.5 L858.9,1655.1 L860.9,1654.7 L862.8,1654.2 L864.7,1653.8 L866.7,1653.3 L868.6,1652.8 L870.6,1652.4 L872.5,1651.9 L874.5,1651.5 L876.4,1651.0 L878.4,1650.5 L880.3,1650.0 L882.3,1649.6 L884.2,1649.1 L886.1,1648.6 L888.1,1648.1 L890.0,1647.6 L892.0,1647.1 L893.9,1646.6 L895.8,1646.1 L897.8,1645.6 L899.7,1645.1 L901.6,1644.6 L903.6,1644.1 L905.5,1643.5 L907.4,1643.0 L909.4,1642.5 L911.3,1642.0 L913.2,1641.4 L915.1,1640.9 L917.1,1640.3 L919.0,1639.8 L920.9,1639.3 L922.8,1638.7 L924.8,1638.2 L926.7,1637.6 L928.6,1637.0 L930.5,1636.5 L932.4,1635.9 L934.4,1635.3 L936.3,1634.8 L938.2,1634.2 L940.1,1633.6 L942.0,1633.0 L943.9,1632.4 L945.8,1631.8 L947.8,1631.2 L949.7,1630.7 L951.6,1630.0 L953.5,1629.4 L955.4,1628.8 L957.3,1628.2 L959.2,1627.6 L961.1,1627.0 L963.0,1626.4 L964.9,1625.7 L966.8,1625.1 L968.7,1624.5 L970.6,1623.8 L972.5,1623.2 L974.4,1622.6 L976.3,1621.9 L978.2,1621.3 L980.0,1620.6 L981.9,1619.9 L983.8,1619.3 L985.7,1618.6 L987.6,1617.9 L989.5,1617.3 L991.4,1616.6 L993.2,1615.9 L995.1,1615.2 L997.0,1614.5 L998.9,1613.9 L1000.8,1613.2 L1002.6,1612.5 L1004.5,1611.8 L1006.4,1611.1 L1008.3,1610.3 L1010.1,1609.6 L1012.0,1608.9 L1013.9,1608.2 L1015.7,1607.5 L1017.6,1606.7 L1019.4,1606.0 L1021.3,1605.3 L1023.2,1604.5 L1025.0,1603.8 L1026.9,1603.1 L1028.7,1602.3 L1030.6,1601.5 L1032.4,1600.8 L1034.3,1600.0 L1036.1,1599.3 L1038.0,1598.5 L1039.8,1597.7 L1041.7,1596.9 L1043.5,1596.2 L1045.4,1595.4 L1047.2,1594.6 L1049.0,1593.7 L1050.8,1592.9 L1052.7,1592.1 L1054.5,1591.3 L1056.3,1590.4 L1058.1,1589.6 L1059.9,1588.7 L1061.7,1587.8 L1063.5,1586.9 L1065.3,1586.1 L1067.1,1585.1 L1068.9,1584.2 L1070.7,1583.3 L1072.4,1582.4 L1074.2,1581.4 L1075.9,1580.4 L1077.7,1579.5 L1079.4,1578.5 L1081.2,1577.5 L1082.9,1576.4 L1084.6,1575.4 L1086.3,1574.4 L1088.0,1573.3 L1089.7,1572.3 L1091.4,1571.2 L1093.1,1570.1 L1094.8,1569.0 L1096.4,1567.8 L1098.1,1566.7 L1099.7,1565.6 L1101.4,1564.4 L1103.0,1563.2 L1104.6,1562.0 L1106.2,1560.8 L1107.8,1559.6 L1109.4,1558.4 L1111.0,1557.1 L1112.5,1555.9 L1114.1,1554.6 L1115.6,1553.3 L1117.2,1552.0 L1118.7,1550.7 L1120.2,1549.4 L1121.7,1548.1 L1123.2,1546.8 L1124.7,1545.4 L1126.2,1544.0 L1127.6,1542.7 L1129.1,1541.3 L1130.5,1539.9 L1131.9,1538.5 L1133.4,1537.1 L1134.8,1535.6 L1136.2,1534.2 L1137.6,1532.8 L1139.0,1531.3 L1140.4,1529.9 L1141.7,1528.4 L1143.1,1526.9 L1144.5,1525.5 L1145.8,1524.0 L1147.1,1522.5 L1148.5,1521.0 L1149.8,1519.5 L1151.1,1518.0 L1152.5,1516.5 L1153.8,1515.0 L1155.1,1513.5 L1156.4,1511.9 L1157.7,1510.4 L1159.0,1508.9 L1160.3,1507.4 L1161.6,1505.8 L1162.9,1504.3 L1164.1,1502.8 L1165.4,1501.2 L1166.7,1499.7 L1168.0,1498.1 L1169.2,1496.6 L1170.5,1495.0 L1171.8,1493.5 L1173.0,1491.9 L1174.3,1490.4 L1175.5,1488.8 L1176.8,1487.2 L1178.0,1485.7 L1179.3,1484.1 L1180.5,1482.5 L1181.8,1481.0 L1183.0,1479.4 L1184.3,1477.8 L1185.5,1476.3 L1186.8,1474.7 L1188.0,1473.1 L1189.2,1471.6 L1190.5,1470.0 L1191.7,1468.4 L1193.0,1466.9 L1194.2,1465.3 L1195.4,1463.7 L1196.7,1462.1 L1197.9,1460.6 L1199.1,1459.0 L1200.4,1457.4 L1201.6,1455.9 L1202.9,1454.3 L1204.1,1452.7 L1205.4,1451.2 L1206.6,1449.6 L1207.9,1448.1 L1209.1,1446.5 L1210.4,1444.9 L1211.6,1443.4 L1212.9,1441.8 L1214.1,1440.3 L1215.4,1438.7 L1216.6,1437.2 L1217.9,1435.6 L1219.2,1434.1 L1220.4,1432.5 L1221.7,1431.0 L1223.0,1429.5 L1224.3,1427.9 L1225.6,1426.4 L1226.9,1424.9 L1228.1,1423.4 L1229.4,1421.8 L1230.7,1420.3 L1232.1,1418.8 L1233.4,1417.3 L1234.7,1415.8 L1236.0,1414.3 L1237.3,1412.8 L1238.7,1411.3 L1240.0,1409.9 L1240.6,1409.4 L1268.8,1388.4 L1296.4,1385.7 L1297.6,1410.3 L1372.5,1431.9 L1427.4,1431.2 L1474.6,1418.4 L1516.4,1401.4 L1555.1,1382.0 L1590.0,1365.0" fill="none" stroke="#721222" stroke-width="3.7" stroke-linejoin="round" stroke-linecap="butt"/>
<path d="M281.3,2102.1 L283.3,2102.1 L285.3,2102.0 L287.3,2102.0 L289.3,2101.9 L291.3,2101.9 L293.3,2101.8 L295.3,2101.7 L297.3,2101.6 L299.3,2101.6 L301.3,2101.5 L303.3,2101.4 L305.3,2101.3 L307.3,2101.2 L309.3,2101.1 L311.3,2101.0 L313.3,2100.9 L315.3,2100.7 L317.3,2100.6 L319.3,2100.5 L321.3,2100.3 L323.3,2100.2 L325.2,2100.1 L327.2,2099.9 L329.2,2099.7 L331.2,2099.6 L333.2,2099.4 L335.2,2099.2 L337.2,2099.1 L339.2,2098.9 L341.2,2098.7 L343.2,2098.5 L345.2,2098.3 L347.2,2098.1 L349.2,2097.9 L351.1,2097.6 L353.1,2097.4 L355.1,2097.2 L357.1,2097.0 L359.1,2096.7 L361.1,2096.5 L363.1,2096.2 L365.0,2096.0 L367.0,2095.7 L369.0,2095.4 L371.0,2095.2 L373.0,2094.9 L374.9,2094.6 L376.9,2094.3 L378.9,2094.0 L380.9,2093.7 L382.9,2093.4 L384.8,2093.1 L386.8,2092.8 L388.8,2092.5 L390.8,2092.1 L392.7,2091.8 L394.7,2091.5 L396.7,2091.1 L398.6,2090.8 L400.6,2090.4 L402.6,2090.1 L404.6,2089.7 L406.5,2089.3 L408.5,2089.0 L410.4,2088.6 L412.4,2088.2 L414.4,2087.8 L416.3,2087.4 L418.3,2087.0 L420.2,2086.6 L422.2,2086.2 L424.2,2085.8 L426.1,2085.3 L428.1,2084.9 L430.0,2084.5 L432.0,2084.0 L433.9,2083.6 L435.9,2083.1 L437.8,2082.7 L439.8,2082.2 L441.7,2081.7 L443.7,2081.3 L445.6,2080.8 L447.5,2080.3 L449.5,2079.8 L451.4,2079.3 L453.4,2078.8 L455.3,2078.3 L457.2,2077.8 L459.2,2077.3 L461.1,2076.8 L463.0,2076.2 L464.9,2075.7 L466.9,2075.2 L468.8,2074.6 L470.7,2074.1 L472.6,2073.5 L474.6,2072.9 L476.5,2072.4 L478.4,2071.8 L480.3,2071.2 L482.2,2070.7 L484.1,2070.1 L486.1,2069.5 L488.0,2068.9 L489.9,2068.3 L491.8,2067.7 L493.7,2067.1 L495.6,2066.4 L497.5,2065.8 L499.4,2065.2 L501.3,2064.6 L503.2,2063.9 L505.1,2063.3 L507.0,2062.6 L508.9,2062.0 L510.8,2061.3 L512.6,2060.6 L514.5,2060.0 L516.4,2059.3 L518.3,2058.6 L520.2,2057.9 L522.0,2057.2 L523.9,2056.5 L525.8,2055.8 L527.7,2055.1 L529.5,2054.4 L531.4,2053.7 L533.3,2053.0 L535.1,2052.3 L537.0,2051.5 L538.9,2050.8 L540.7,2050.1 L542.6,2049.3 L544.4,2048.6 L546.3,2047.8 L548.1,2047.1 L550.0,2046.3 L551.8,2045.5 L553.7,2044.7 L555.5,2044.0 L557.4,2043.2 L559.2,2042.4 L561.0,2041.6 L562.9,2040.8 L564.7,2040.0 L566.5,2039.2 L568.4,2038.4 L570.2,2037.6 L572.0,2036.7 L573.8,2035.9 L575.7,2035.1 L577.5,2034.2 L579.3,2033.4 L581.1,2032.5 L582.9,2031.7 L584.7,2030.8 L586.5,2030.0 L588.3,2029.1 L590.1,2028.2 L591.9,2027.4 L593.7,2026.5 L595.5,2025.6 L597.3,2024.7 L599.1,2023.8 L600.9,2022.9 L602.7,2022.0 L604.5,2021.1 L606.3,2020.2 L608.0,2019.3 L609.8,2018.4 L611.6,2017.5 L613.4,2016.5 L615.1,2015.6 L616.9,2014.7 L618.7,2013.7 L620.4,2012.8 L622.2,2011.8 L624.0,2010.9 L625.7,2009.9 L627.5,2009.0 L629.2,2008.0 L631.0,2007.0 L632.7,2006.0 L634.5,2005.1 L636.2,2004.1 L638.0,2003.1 L639.7,2002.1 L641.4,2001.1 L643.2,2000.1 L644.9,1999.1 L646.6,1998.1 L648.4,1997.1 L650.1,1996.1 L651.8,1995.1 L653.5,1994.0 L655.2,1993.0 L657.0,1992.0 L658.7,1990.9 L660.4,1989.9 L662.1,1988.9 L663.8,1987.8 L665.5,1986.8 L667.2,1985.7 L668.9,1984.6 L670.6,1983.6 L672.3,1982.5 L674.0,1981.4 L675.7,1980.4 L677.4,1979.3 L679.0,1978.2 L680.7,1977.1 L682.4,1976.0 L684.1,1974.9 L685.7,1973.8 L687.4,1972.7 L689.1,1971.6 L690.8,1970.5 L692.4,1969.4 L694.1,1968.3 L695.7,1967.2 L697.4,1966.1 L699.1,1964.9 L700.7,1963.8 L702.4,1962.7 L704.0,1961.5 L705.7,1960.4 L707.3,1959.3 L708.9,1958.1 L710.6,1957.0 L712.2,1955.8 L713.8,1954.7 L715.5,1953.5 L717.1,1952.3 L718.7,1951.2 L720.4,1950.0 L722.0,1948.8 L723.6,1947.6 L725.2,1946.5 L726.8,1945.3 L728.4,1944.1 L730.0,1942.9 L731.7,1941.7 L733.3,1940.5 L734.9,1939.3 L736.5,1938.1 L738.1,1936.9 L739.6,1935.7 L741.2,1934.5 L742.8,1933.3 L744.4,1932.1 L746.0,1930.8 L747.6,1929.6 L749.2,1928.4 L750.7,1927.1 L752.3,1925.9 L753.9,1924.7 L755.5,1923.4 L757.0,1922.2 L758.6,1920.9 L760.2,1919.7 L761.7,1918.4 L763.3,1917.2 L764.8,1915.9 L766.4,1914.7 L768.0,1913.4 L769.5,1912.1 L771.0,1910.9 L772.6,1909.6 L774.1,1908.3 L775.7,1907.0 L777.2,1905.8 L778.8,1904.5 L780.3,1903.2 L781.8,1901.9 L783.3,1900.6 L784.9,1899.3 L786.4,1898.0 L787.9,1896.7 L789.4,1895.4 L791.0,1894.1 L792.5,1892.8 L794.0,1891.5 L795.5,1890.2 L797.0,1888.9 L798.5,1887.5 L800.0,1886.2 L801.5,1884.9 L803.0,1883.6 L804.5,1882.2 L806.0,1880.9 L807.5,1879.6 L809.0,1878.2 L810.5,1876.9 L812.0,1875.6 L813.4,1874.2 L814.9,1872.9 L816.4,1871.5 L817.9,1870.2 L819.3,1868.8 L820.8,1867.5 L822.3,1866.1 L823.8,1864.7 L825.2,1863.4 L826.7,1862.0 L828.1,1860.6 L829.6,1859.3 L831.1,1857.9 L832.5,1856.5 L834.0,1855.1 L835.4,1853.8 L836.9,1852.4 L838.3,1851.0 L839.7,1849.6 L841.2,1848.2 L842.6,1846.8 L844.1,1845.4 L845.5,1844.0 L846.9,1842.6 L848.4,1841.2 L849.8,1839.8 L851.2,1838.4 L852.6,1837.0 L854.1,1835.6 L855.5,1834.2 L856.9,1832.8 L858.3,1831.4 L859.7,1830.0 L861.1,1828.5 L862.5,1827.1 L863.9,1825.7 L865.4,1824.3 L866.8,1822.8 L868.2,1821.4 L869.6,1820.0 L870.9,1818.5 L872.3,1817.1 L873.7,1815.7 L875.1,1814.2 L876.5,1812.8 L877.9,1811.3 L879.3,1809.9 L880.7,1808.4 L882.0,1807.0 L883.4,1805.5 L884.8,1804.1 L886.2,1802.6 L887.5,1801.2 L888.9,1799.7 L890.3,1798.3 L891.6,1796.8 L893.0,1795.3 L894.4,1793.9 L895.7,1792.4 L897.1,1790.9 L898.5,1789.5 L899.8,1788.0 L901.2,1786.5 L902.5,1785.0 L903.9,1783.6 L905.2,1782.1 L906.6,1780.6 L907.9,1779.1 L909.3,1777.7 L910.6,1776.2 L912.0,1774.7 L913.3,1773.2 L914.6,1771.7 L916.0,1770.2 L917.3,1768.8 L918.7,1767.3 L920.0,1765.8 L921.3,1764.3 L922.7,1762.8 L924.0,1761.3 L925.4,1759.8 L926.7,1758.3 L928.0,1756.9 L929.4,1755.4 L930.7,1753.9 L932.0,1752.4 L933.4,1750.9 L934.7,1749.4 L936.0,1747.9 L937.3,1746.4 L938.7,1744.9 L940.0,1743.4 L941.3,1741.9 L942.7,1740.4 L944.0,1738.9 L945.3,1737.4 L946.6,1735.9 L948.0,1734.4 L949.3,1732.9 L950.6,1731.4 L951.9,1729.9 L953.3,1728.4 L954.6,1726.9 L955.9,1725.4 L957.2,1723.9 L958.6,1722.4 L959.9,1720.9 L961.2,1719.5 L962.5,1718.0 L963.9,1716.5 L965.2,1715.0 L966.5,1713.5 L967.8,1712.0 L969.2,1710.5 L970.5,1709.0 L971.8,1707.5 L973.1,1706.0 L974.5,1704.5 L975.8,1703.0 L977.1,1701.5 L978.5,1700.0 L979.8,1698.5 L981.1,1697.0 L982.4,1695.5 L983.8,1694.0 L985.1,1692.5 L986.4,1691.0 L987.7,1689.5 L989.1,1688.0 L990.4,1686.5 L991.7,1685.0 L993.0,1683.5 L994.3,1682.0 L995.7,1680.5 L997.0,1679.0 L998.3,1677.5 L999.6,1676.0 L1000.9,1674.5 L1002.2,1672.9 L1003.5,1671.4 L1004.8,1669.9 L1006.1,1668.4 L1007.4,1666.9 L1008.7,1665.3 L1010.0,1663.8 L1011.3,1662.3 L1012.6,1660.7 L1013.9,1659.2 L1015.2,1657.7 L1016.5,1656.1 L1017.7,1654.6 L1019.0,1653.0 L1020.3,1651.5 L1021.5,1649.9 L1022.8,1648.4 L1024.1,1646.8 L1025.3,1645.3 L1026.6,1643.7 L1027.8,1642.1 L1029.1,1640.6 L1030.3,1639.0 L1031.5,1637.4 L1032.8,1635.8 L1034.0,1634.3 L1035.2,1632.7 L1036.4,1631.1 L1037.7,1629.5 L1038.9,1627.9 L1040.1,1626.3 L1041.3,1624.7 L1042.5,1623.1 L1043.7,1621.5 L1044.8,1619.8 L1046.0,1618.2 L1047.2,1616.6 L1048.4,1615.0 L1049.5,1613.4 L1050.7,1611.7 L1051.9,1610.1 L1053.0,1608.4 L1054.2,1606.8 L1055.3,1605.2 L1056.5,1603.5 L1057.6,1601.9 L1058.7,1600.2 L1059.9,1598.6 L1061.0,1596.9 L1062.1,1595.2 L1063.2,1593.6 L1064.3,1591.9 L1065.4,1590.2 L1066.5,1588.6 L1067.6,1586.9 L1068.7,1585.2 L1069.8,1583.5 L1070.9,1581.9 L1072.0,1580.2 L1073.1,1578.5 L1074.2,1576.8 L1075.3,1575.1 L1076.3,1573.4 L1077.4,1571.8 L1078.5,1570.1 L1079.6,1568.4 L1080.6,1566.7 L1081.7,1565.0 L1082.8,1563.3 L1083.8,1561.6 L1084.9,1559.9 L1085.9,1558.2 L1087.0,1556.5 L1088.0,1554.8 L1089.1,1553.1 L1090.1,1551.4 L1091.2,1549.7 L1092.2,1548.0 L1093.3,1546.3 L1094.3,1544.5 L1095.4,1542.8 L1096.4,1541.1 L1097.4,1539.4 L1098.5,1537.7 L1099.5,1536.0 L1100.5,1534.3 L1101.6,1532.6 L1102.6,1530.9 L1103.6,1529.1 L1104.7,1527.4 L1105.7,1525.7 L1106.7,1524.0 L1107.8,1522.3 L1108.8,1520.6 L1109.8,1518.8 L1110.8,1517.1 L1111.9,1515.4 L1112.9,1513.7 L1113.9,1512.0 L1114.9,1510.2 L1115.9,1508.5 L1117.0,1506.8 L1118.0,1505.1 L1119.0,1503.4 L1120.0,1501.6 L1121.1,1499.9 L1122.1,1498.2 L1123.1,1496.5 L1124.1,1494.8 L1125.1,1493.0 L1126.2,1491.3 L1127.2,1489.6 L1128.2,1487.9 L1129.2,1486.2 L1130.2,1484.4 L1131.3,1482.7 L1132.3,1481.0 L1133.3,1479.3 L1134.3,1477.6 L1135.3,1475.8 L1136.4,1474.1 L1137.4,1472.4 L1138.4,1470.7 L1139.4,1469.0 L1140.5,1467.3 L1141.5,1465.5 L1142.5,1463.8 L1143.5,1462.1 L1144.6,1460.4 L1145.6,1458.7 L1146.6,1457.0 L1147.7,1455.3 L1148.7,1453.5 L1149.7,1451.8 L1150.8,1450.1 L1151.8,1448.4 L1152.8,1446.7 L1153.9,1445.0 L1154.9,1443.3 L1155.9,1441.6 L1157.0,1439.9 L1158.0,1438.2 L1159.1,1436.5 L1160.1,1434.8 L1161.2,1433.1 L1162.2,1431.4 L1163.3,1429.7 L1164.3,1428.0 L1165.4,1426.3 L1166.5,1424.6 L1167.5,1422.9 L1168.6,1421.2 L1169.7,1419.5 L1170.7,1417.8 L1171.8,1416.1 L1172.9,1414.5 L1173.9,1412.8 L1175.0,1411.1 L1176.1,1409.4 L1177.2,1407.7 L1178.3,1406.1 L1179.4,1404.4 L1180.5,1402.7 L1181.6,1401.1 L1182.7,1399.4 L1183.8,1397.7 L1184.9,1396.1 L1186.0,1394.4 L1187.1,1392.7 L1188.2,1391.1 L1189.3,1389.4 L1190.5,1387.8 L1191.6,1386.1 L1192.7,1384.5 L1193.9,1382.9 L1195.0,1381.2 L1196.1,1379.6 L1197.3,1378.0 L1198.5,1376.3 L1199.6,1374.7 L1200.8,1373.1 L1202.0,1371.5 L1203.1,1369.9 L1204.3,1368.2 L1205.5,1366.6 L1206.7,1365.0 L1207.9,1363.4 L1209.1,1361.9 L1210.3,1360.3 L1211.5,1358.7 L1212.7,1357.1 L1214.0,1355.5 L1215.2,1354.0 L1216.4,1352.4 L1217.7,1350.9 L1219.0,1349.3 L1220.2,1347.8 L1221.5,1346.2 L1222.8,1344.7 L1224.1,1343.2 L1225.4,1341.7 L1226.7,1340.2 L1228.0,1338.7 L1229.3,1337.2 L1230.6,1335.7 L1232.0,1334.2 L1233.3,1332.8 L1234.7,1331.3 L1236.1,1329.9 L1237.4,1328.4 L1238.8,1327.0 L1240.3,1325.6 L1240.6,1325.5 L1268.8,1313.1 L1295.6,1321.0 L1297.6,1343.2 L1315.4,1351.8 L1340.4,1367.9 L1372.5,1382.8 L1427.4,1384.8 L1474.6,1369.6 L1518.0,1351.1 L1555.1,1332.5 L1590.0,1317.8" fill="none" stroke="#14406e" stroke-width="3.7" stroke-linejoin="round" stroke-linecap="butt"/>
<text transform="translate(258.80,52.60) scale(1,1.0)" text-anchor="end" fill="#000" font-size="71"><tspan dy="5.1">−</tspan><tspan dy="-5.1">6.5</tspan></text>
<text transform="translate(258.80,214.18) scale(1,1.0)" text-anchor="end" fill="#000" font-size="71"><tspan dy="5.1">−</tspan><tspan dy="-5.1">7.0</tspan></text>
<text transform="translate(258.80,394.46) scale(1,1.0)" text-anchor="end" fill="#000" font-size="71"><tspan dy="5.1">−</tspan><tspan dy="-5.1">7.5</tspan></text>
<text transform="translate(258.80,574.74) scale(1,1.0)" text-anchor="end" fill="#000" font-size="71"><tspan dy="5.1">−</tspan><tspan dy="-5.1">8.0</tspan></text>
<text transform="translate(258.80,755.02) scale(1,1.0)" text-anchor="end" fill="#000" font-size="71"><tspan dy="5.1">−</tspan><tspan dy="-5.1">8.5</tspan></text>
<text transform="translate(258.80,909.40) scale(1,1.0)" text-anchor="end" fill="#000" font-size="71"><tspan dy="5.1">−</tspan><tspan dy="-5.1">9.0</tspan></text>
<text transform="translate(1608.60,50.40) scale(1,1.0)" text-anchor="start" fill="#000" font-size="71">0.3</text>
<text transform="translate(1608.60,334.37) scale(1,1.0)" text-anchor="start" fill="#000" font-size="71">0.2</text>
<text transform="translate(1608.60,634.83) scale(1,1.0)" text-anchor="start" fill="#000" font-size="71">0.1</text>
<text transform="translate(1608.60,911.00) scale(1,1.0)" text-anchor="start" fill="#000" font-size="71">0.0</text>
<text transform="translate(258.80,1306.40) scale(1,1.0)" text-anchor="end" fill="#000" font-size="71">1.0</text>
<text transform="translate(258.80,1469.42) scale(1,1.0)" text-anchor="end" fill="#000" font-size="71">0.8</text>
<text transform="translate(258.80,1649.74) scale(1,1.0)" text-anchor="end" fill="#000" font-size="71">0.6</text>
<text transform="translate(258.80,1830.06) scale(1,1.0)" text-anchor="end" fill="#000" font-size="71">0.4</text>
<text transform="translate(258.80,2010.38) scale(1,1.0)" text-anchor="end" fill="#000" font-size="71">0.2</text>
<text transform="translate(258.80,2166.30) scale(1,1.0)" text-anchor="end" fill="#000" font-size="71">0.0</text>
<text transform="translate(1608.60,1305.80) scale(1,1.0)" text-anchor="start" fill="#000" font-size="71">0</text>
<text transform="translate(1608.60,1469.42) scale(1,1.0)" text-anchor="start" fill="#000" font-size="71">-1</text>
<text transform="translate(1608.60,1649.74) scale(1,1.0)" text-anchor="start" fill="#000" font-size="71">-2</text>
<text transform="translate(1608.60,1830.06) scale(1,1.0)" text-anchor="start" fill="#000" font-size="71">-3</text>
<text transform="translate(1608.60,2010.38) scale(1,1.0)" text-anchor="start" fill="#000" font-size="71">-4</text>
<text transform="translate(1608.60,2165.20) scale(1,1.0)" text-anchor="start" fill="#000" font-size="71">-5</text>
<text transform="translate(536.20,1000.40) scale(1,1.0)" text-anchor="middle" fill="#000" font-size="71">2</text>
<text transform="translate(536.20,2255.40) scale(1,1.0)" text-anchor="middle" fill="#000" font-size="71">2</text>
<text transform="translate(881.10,1000.40) scale(1,1.0)" text-anchor="middle" fill="#000" font-size="71">4</text>
<text transform="translate(881.10,2255.40) scale(1,1.0)" text-anchor="middle" fill="#000" font-size="71">4</text>
<text transform="translate(1226.00,1000.40) scale(1,1.0)" text-anchor="middle" fill="#000" font-size="71">6</text>
<text transform="translate(1226.00,2255.40) scale(1,1.0)" text-anchor="middle" fill="#000" font-size="71">6</text>
<text transform="translate(1570.90,1000.40) scale(1,1.0)" text-anchor="middle" fill="#000" font-size="71">8</text>
<text transform="translate(1570.90,2255.40) scale(1,1.0)" text-anchor="middle" fill="#000" font-size="71">8</text>
<text transform="translate(933.50,1076.70) scale(1,1.0)" text-anchor="middle" fill="#000" font-size="71">Age (Myr)</text>
<text transform="translate(933.50,2331.70) scale(1,1.0)" text-anchor="middle" fill="#000" font-size="71">Age (Myr)</text>
<text transform="translate(305.60,558.00) scale(1,1.0)" text-anchor="start" fill="#93141f" font-size="71" textLength="604.7" lengthAdjust="spacing">Accretion rate: Red</text>
<text transform="translate(302.90,660.20) scale(1,1.0)" text-anchor="start" fill="#124a8a" font-size="71">Disk mass: Blue</text>
<text transform="translate(329.00,1388.30) scale(1,1.0)" text-anchor="start" fill="#93141f" font-size="71">Stellar Temperature: Red</text>
<text transform="translate(337.50,1472.90) scale(1,1.0)" text-anchor="start" fill="#124a8a" font-size="71">L<tspan font-size="44" dy="16.1">FUV</tspan><tspan dy="-16.1" dx="2.4">: Blue</tspan></text>
<text transform="translate(62.70,701.20) rotate(-90) scale(1,1.0)" text-anchor="start" fill="#000" font-size="71">log[M (M<tspan font-size="47" dy="16" dx="-2.9" font-family="DejaVu Sans">⊙</tspan><tspan dy="-16" dx="-2.5"> yr</tspan><tspan font-size="44" dy="-29" dx="-1.6">−</tspan><tspan font-size="44" dy="-3">1</tspan><tspan dy="32" dx="2.4">)]</tspan></text>
<text transform="translate(1770.60,610.10) rotate(-90) scale(1,1.0)" text-anchor="start" fill="#000" font-size="71">M<tspan font-size="44" dy="17.3" dx="0.6">disk</tspan><tspan dy="-17.3" dx="0.8"> (M</tspan><tspan font-size="47" dy="16" dx="-3.4" font-family="DejaVu Sans">⊙</tspan><tspan dy="-16" dx="-3.3">)</tspan></text>
<text transform="translate(104.40,2137.50) rotate(-90) scale(1,1.0)" text-anchor="start" fill="#000" font-size="71">Stellar Temperature (10<tspan font-size="44" dy="-32.4" dx="-0.9">4</tspan><tspan dy="32.4" dx="-1.3">K</tspan><tspan dx="2.6">)</tspan></text>
<text transform="translate(1735.10,1916.10) rotate(-90) scale(1,1.0)" text-anchor="start" fill="#000" font-size="71">log[L<tspan font-size="44" dy="16.7" dx="1.5">FUV</tspan><tspan dy="-16.7" dx="-2.2"> (L</tspan><tspan font-size="47" dy="16" dx="-2.8" font-family="DejaVu Sans">⊙</tspan><tspan dy="-16">)</tspan><tspan dx="-3">]</tspan></text>
</svg>
</body></html>
